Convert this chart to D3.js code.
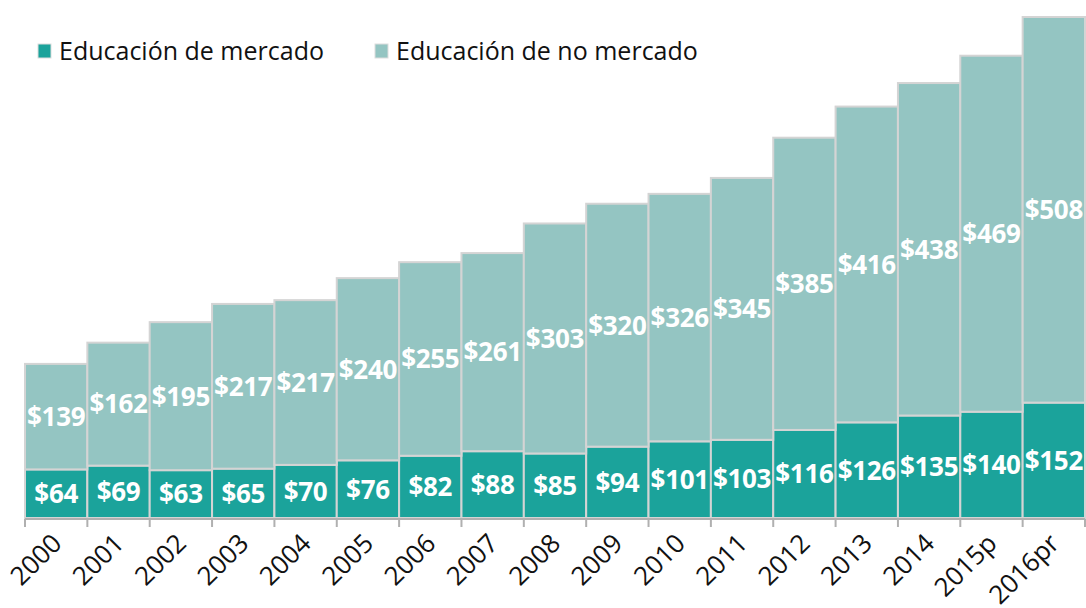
<!DOCTYPE html>
<html><head><meta charset="utf-8">
<script src="https://cdn.jsdelivr.net/npm/d3@7"></script>
<style>body{margin:0;background:#fff}svg{display:block;font-family:"Open Sans",sans-serif}</style>
</head><body><svg id="c" width="1086" height="608"></svg>
<script>
const years = ["2000","2001","2002","2003","2004","2005","2006","2007","2008","2009","2010","2011","2012","2013","2014","2015p","2016pr"];
const mercado = [64,69,63,65,70,76,82,88,85,94,101,103,116,126,135,140,152];
const noMercado = [139,162,195,217,217,240,255,261,303,320,326,345,385,416,438,469,508];
const seriesNames = ["Educación de mercado","Educación de no mercado"];
const colors = ["#1ba39b","#94c5c2"];

const svg = d3.select("#c");
const x = d3.scaleBand().domain(years).range([25,1085]).padding(0);
const y = d3.scaleLinear().domain([0,660]).range([518,17]);

const rows = years.map((yr,i)=>({year:yr, m:mercado[i], n:noMercado[i]}));
const stack = d3.stack().keys(["m","n"])(rows);

const g = svg.append("g");
stack.forEach((layer,li)=>{
  g.selectAll(null).data(layer).enter().append("rect")
    .attr("x",d=>x(d.data.year)).attr("width",x.bandwidth())
    .attr("y",d=>y(d[1])).attr("height",d=>y(d[0])-y(d[1]))
    .attr("fill",colors[li]).attr("stroke","#d4d4d4").attr("stroke-width",2);
});
stack.forEach((layer,li)=>{
  g.selectAll(null).data(layer).enter().append("text")
    .attr("x",d=>x(d.data.year)+x.bandwidth()/2)
    .attr("y",d=>(y(d[0])+y(d[1]))/2)
    .attr("dy","0.36em").attr("text-anchor","middle")
    .attr("fill","#fff").attr("font-weight","bold").attr("font-size",26)
    .attr("letter-spacing","-0.3")
    .text(d=>"$"+(d[1]-d[0]));
});

// axis
const ax = svg.append("g");
ax.append("line").attr("x1",25).attr("x2",1085).attr("y1",519).attr("y2",519).attr("stroke","#b0b0b0").attr("stroke-width",2);
const edges = years.map(yv=>x(yv)).concat([x.range()[1]]);
ax.selectAll(null).data(edges).enter().append("line")
  .attr("x1",d=>d).attr("x2",d=>d).attr("y1",519).attr("y2",527).attr("stroke","#b0b0b0").attr("stroke-width",2);
ax.selectAll(null).data(years).enter().append("text")
  .attr("transform",d=>`translate(${x(d)+x.bandwidth()/2+7},${545}) rotate(-45)`)
  .attr("text-anchor","end").attr("font-size",26).attr("fill","#111").text(d=>d);

// legend
const leg = svg.append("g");
const lx = [38,375];
seriesNames.forEach((s,i)=>{
  leg.append("rect").attr("x",lx[i]).attr("y",44).attr("width",13).attr("height",14).attr("fill",colors[i]).attr("stroke","#ddd").attr("stroke-width",1);
  leg.append("text").attr("x",lx[i]+21).attr("y",60).attr("font-size",25).attr("fill","#111").text(s);
});
</script></body></html>
